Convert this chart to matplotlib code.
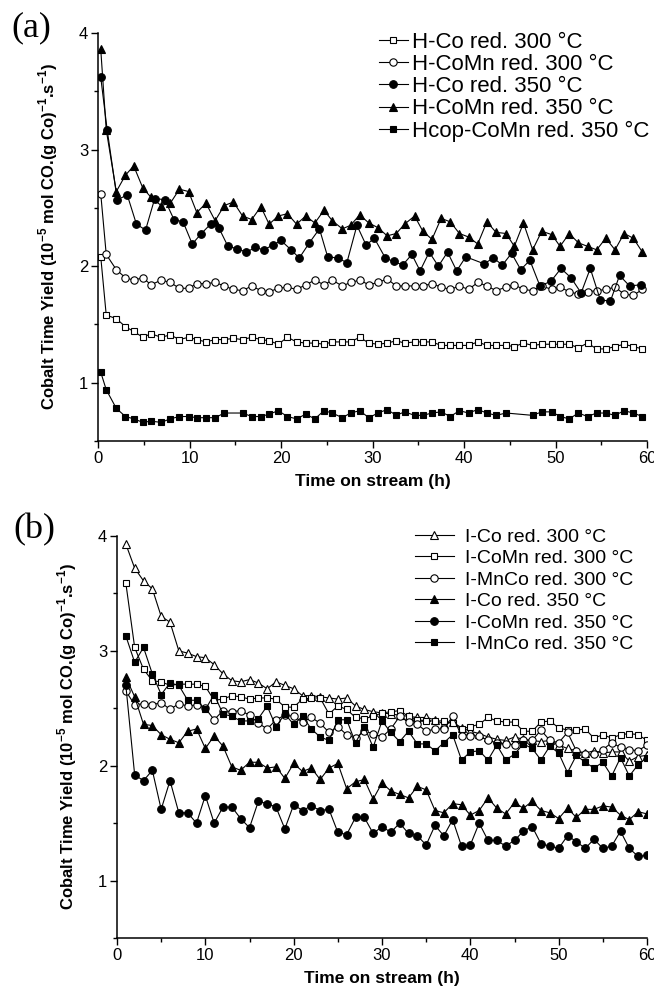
import matplotlib
matplotlib.use('Agg')
import matplotlib.pyplot as plt
import numpy as np
from matplotlib.ticker import MultipleLocator

plt.rcParams['font.family'] = ['Liberation Sans', 'DejaVu Sans']
plt.rcParams['mathtext.fontset'] = 'custom'
plt.rcParams['mathtext.rm'] = 'Liberation Sans'
plt.rcParams['mathtext.bf'] = 'Liberation Sans:bold'

# ---------------- Panel (a) data ----------------
t_a = [0.3, 0.9, 2.0, 3.0, 3.9, 4.9, 5.8, 6.9, 7.9, 8.9, 9.9,
       10.8, 11.8, 12.8, 13.8, 14.8, 15.8, 16.8, 17.8, 18.7, 19.7,
       20.7, 21.7, 22.7, 23.7, 24.7, 25.6, 26.7, 27.6, 28.6, 29.6,
       30.6, 31.6, 32.6, 33.5, 34.6, 35.5, 36.5, 37.5, 38.5, 39.5,
       40.5, 41.5, 42.5, 43.5, 44.6, 45.5, 46.5, 47.5, 48.5, 49.6,
       50.5, 51.5, 52.5, 53.5, 54.5, 55.5, 56.5, 57.5, 58.5, 59.5]

h_co_300 = [2.08, 1.58, 1.55, 1.48, 1.44, 1.39, 1.42, 1.39, 1.41, 1.37,
            1.39, 1.37, 1.35, 1.37, 1.37, 1.38, 1.37, 1.39, 1.37, 1.36,
            1.33, 1.39, 1.35, 1.34, 1.34, 1.33, 1.35, 1.35, 1.35, 1.39,
            1.34, 1.33, 1.34, 1.36, 1.34, 1.35, 1.35, 1.35, 1.32, 1.32,
            1.32, 1.32, 1.35, 1.32, 1.32, 1.32, 1.31, 1.34, 1.32, 1.33,
            1.33, 1.33, 1.33, 1.30, 1.34, 1.29, 1.29, 1.31, 1.33, 1.31,
            1.29]

h_comn_300 = [2.62, 2.10, 1.97, 1.90, 1.88, 1.90, 1.84, 1.88, 1.86, 1.81,
              1.81, 1.85, 1.85, 1.86, 1.83, 1.80, 1.79, 1.83, 1.79, 1.78,
              1.81, 1.82, 1.80, 1.84, 1.88, 1.84, 1.88, 1.83, 1.86, 1.88,
              1.84, 1.86, 1.89, 1.83, 1.83, 1.83, 1.83, 1.85, 1.82, 1.80,
              1.83, 1.80, 1.86, 1.83, 1.79, 1.82, 1.84, 1.80, 1.79, 1.83,
              1.80, 1.82, 1.78, 1.76, 1.78, 1.79, 1.80, 1.82, 1.76, 1.75,
              1.80]

t_h_co_350 = [0.3, 1.0, 2.1, 3.2, 4.2, 5.2, 6.2, 7.3, 8.3, 9.3,
              10.3, 11.3, 12.3, 13.2, 14.2, 15.2, 16.2, 17.2, 18.1, 19.1,
              20.0, 21.1, 22.0, 23.1, 24.2, 25.1, 26.2, 27.2, 28.3, 29.3,
              30.2, 31.4, 32.3, 33.3, 34.3, 35.2, 36.2, 37.2, 38.2, 39.2,
              40.2, 42.2, 43.2, 44.2, 45.2, 46.2, 47.2, 48.3, 49.5, 50.6,
              51.7, 52.8, 53.8, 54.9, 56.0, 57.0, 58.1, 59.3]
h_co_350 = [3.62, 3.17, 2.57, 2.61, 2.36, 2.31, 2.58, 2.57, 2.40, 2.38,
            2.19, 2.28, 2.36, 2.33, 2.17, 2.15, 2.12, 2.16, 2.14, 2.18,
            2.22, 2.14, 2.07, 2.20, 2.32, 2.08, 2.07, 2.03, 2.35, 2.18,
            2.24, 2.07, 2.04, 2.01, 2.10, 1.96, 2.12, 2.00, 2.12, 1.96,
            2.08, 2.02, 2.07, 2.01, 2.11, 1.97, 2.05, 1.83, 1.87, 1.98,
            1.90, 1.77, 1.98, 1.71, 1.70, 1.92, 1.83, 1.84]

h_comn_350 = [3.86, 3.17, 2.64, 2.78, 2.86, 2.67, 2.59, 2.52, 2.54, 2.66,
              2.64, 2.46, 2.54, 2.39, 2.52, 2.55, 2.43, 2.40, 2.51, 2.36,
              2.43, 2.45, 2.36, 2.43, 2.37, 2.48, 2.39, 2.32, 2.35, 2.44,
              2.37, 2.33, 2.26, 2.28, 2.36, 2.43, 2.30, 2.23, 2.41, 2.38,
              2.28, 2.25, 2.19, 2.38, 2.29, 2.28, 2.17, 2.37, 2.14, 2.30,
              2.27, 2.17, 2.28, 2.20, 2.17, 2.14, 2.24, 2.14, 2.28, 2.24,
              2.12]

hcop_comn_350 = [1.09, 0.94, 0.78, 0.71, 0.69, 0.66, 0.67, 0.66, 0.69, 0.71,
                 0.71, 0.70, 0.70, 0.70, 0.74, np.nan, 0.74, 0.71, 0.71, 0.73,
                 0.76, 0.71, 0.69, 0.73, 0.69, 0.76, 0.74, 0.70, 0.74, 0.76,
                 0.70, 0.74, 0.77, 0.72, 0.75, 0.72, 0.72, 0.74, 0.75, 0.71,
                 0.76, 0.74, 0.77, 0.74, 0.72, 0.74, np.nan, np.nan, 0.72, 0.75,
                 0.75, 0.71, 0.69, 0.74, 0.71, 0.74, 0.74, 0.72, 0.76, 0.74,
                 0.71]

labels_a = ['H-Co red. 300 \u00b0C', 'H-CoMn red. 300 \u00b0C', 'H-Co red. 350 \u00b0C',
            'H-CoMn red. 350 \u00b0C', 'Hcop-CoMn red. 350 \u00b0C']

# ---------------- Panel (b) data ----------------
t_b = list(range(1, 61))

i_co_300 = [3.93, 3.72, 3.61, 3.54, 3.30, 3.25, 3.00, 2.98, 2.95, 2.94,
            2.88, 2.80, 2.74, 2.73, 2.75, 2.72, 2.67, 2.73, 2.70, 2.67,
            2.61, 2.61, 2.60, 2.59, 2.58, 2.59, 2.52, 2.49, 2.47, 2.46,
            2.45, 2.44, 2.43, 2.42, 2.42, 2.40, 2.36, 2.38, 2.33, 2.30,
            2.28, 2.25, 2.23, 2.22, 2.25, 2.23, 2.22, 2.21, 2.22, 2.18,
            2.15, 2.13, 2.11, 2.13, 2.11, 2.12, 2.12, 2.04, 2.08, 2.09]

i_comn_300 = [3.59, 3.03, 2.84, 2.74, 2.73, 2.70, 2.71, 2.71, 2.71, 2.69,
              2.57, 2.58, 2.61, 2.60, 2.58, 2.59, 2.59, 2.58, 2.51, 2.51,
              2.58, 2.59, 2.59, 2.45, 2.52, 2.49, 2.42, 2.41, 2.43, 2.46,
              2.47, 2.48, 2.43, 2.40, 2.39, 2.39, 2.39, 2.37, 2.32, 2.34,
              2.36, 2.42, 2.39, 2.38, 2.38, 2.30, 2.30, 2.38, 2.39, 2.33,
              2.31, 2.31, 2.32, 2.24, 2.27, 2.24, 2.27, 2.28, 2.27, 2.22]

i_mnco_300 = [2.65, 2.53, 2.54, 2.53, 2.55, 2.49, 2.54, 2.52, 2.53, 2.50,
              2.40, 2.48, 2.47, 2.48, 2.44, 2.37, 2.32, 2.40, 2.44, 2.43,
              2.38, 2.42, 2.37, 2.29, 2.34, 2.27, 2.24, 2.30, 2.28, 2.25,
              2.32, 2.43, 2.38, 2.36, 2.30, 2.32, 2.32, 2.43, 2.26, 2.26,
              2.26, 2.22, 2.20, 2.19, 2.18, 2.22, 2.22, 2.31, 2.22, 2.20,
              2.29, 2.13, 2.10, 2.10, 2.14, 2.20, 2.16, 2.14, 2.13, 2.18]

i_co_350 = [2.77, 2.60, 2.36, 2.35, 2.27, 2.23, 2.20, 2.30, 2.32, 2.15,
            2.26, 2.17, 1.99, 1.96, 2.03, 2.03, 1.98, 1.99, 1.89, 2.02,
            1.95, 1.98, 1.88, 1.98, 2.02, 1.80, 1.86, 1.88, 1.71, 1.85,
            1.78, 1.75, 1.72, 1.82, 1.79, 1.61, 1.59, 1.67, 1.66, 1.57,
            1.61, 1.72, 1.63, 1.58, 1.68, 1.63, 1.69, 1.61, 1.59, 1.54,
            1.63, 1.55, 1.62, 1.62, 1.65, 1.64, 1.57, 1.53, 1.60, 1.58]

i_comn_350 = [2.70, 1.92, 1.87, 1.96, 1.62, 1.87, 1.59, 1.59, 1.50, 1.74,
              1.50, 1.64, 1.64, 1.54, 1.46, 1.69, 1.67, 1.64, 1.45, 1.66,
              1.61, 1.65, 1.61, 1.62, 1.42, 1.40, 1.55, 1.55, 1.41, 1.47,
              1.42, 1.50, 1.41, 1.39, 1.31, 1.48, 1.39, 1.53, 1.30, 1.31,
              1.50, 1.35, 1.35, 1.30, 1.35, 1.43, 1.47, 1.32, 1.30, 1.28,
              1.39, 1.34, 1.28, 1.36, 1.28, 1.30, 1.43, 1.28, 1.21, 1.22]

i_mnco_350 = [3.13, 2.90, 3.03, 2.80, 2.62, 2.72, 2.70, 2.57, 2.57, 2.49,
              2.62, 2.45, 2.43, 2.39, 2.39, 2.41, 2.52, 2.34, 2.45, 2.36,
              2.43, 2.32, 2.25, 2.22, 2.40, 2.40, 2.20, 2.34, 2.16, 2.39,
              2.29, 2.21, 2.30, 2.19, 2.19, 2.13, 2.20, 2.27, 2.05, 2.12,
              2.13, 2.05, 2.18, 2.05, 2.10, 2.19, 2.15, 2.05, 2.17, 2.11,
              1.94, 2.09, 2.03, 1.98, 2.03, 1.91, 2.07, 1.91, 2.01, 2.07]

labels_b = ['I-Co red. 300 \u00b0C', 'I-CoMn red. 300 \u00b0C', 'I-MnCo red. 300 \u00b0C',
            'I-Co red. 350 \u00b0C', 'I-CoMn red. 350 \u00b0C', 'I-MnCo red. 350 \u00b0C']

xticks = [0, 10, 20, 30, 40, 50, 60]
yticks = [1, 2, 3, 4]
xlabel = 'Time on stream (h)'
ylabel = r'Cobalt Time Yield (10$^{\mathbf{-5}}$ mol CO.(g Co)$^{\mathbf{-1}}$.s$^{\mathbf{-1}}$)'

# ---------------- Figure ----------------
W, H = 654, 992
fig = plt.figure(figsize=(W / 100, H / 100), dpi=100)
ax_a = fig.add_axes([98 / W, 1 - 441 / H, 549 / W, 408 / H])
ax_b = fig.add_axes([117 / W, 1 - 938 / H, 530 / W, 402 / H])


def style(ax):
    for s in ['top', 'right']:
        ax.spines[s].set_visible(False)
    for s in ['left', 'bottom']:
        ax.spines[s].set_linewidth(1.1)
    ax.set_xlim(0, 60)
    ax.set_ylim(0.5, 4)
    ax.set_xticks(xticks)
    ax.set_yticks(yticks)
    ax.xaxis.set_minor_locator(MultipleLocator(5))
    ax.yaxis.set_minor_locator(MultipleLocator(0.5))
    ax.tick_params(which='major', direction='out', length=5, width=1.0,
                   labelsize=12, pad=2)
    ax.tick_params(which='minor', direction='out', length=3, width=1.0)
    ax.set_xlabel(xlabel, fontsize=12.5, fontweight='bold', labelpad=6)


def series(ax, t, v, marker, filled, ms):
    t = np.asarray(t, dtype=float)
    v = np.asarray(v, dtype=float)
    m = ~np.isnan(v)
    return ax.plot(t[m], v[m], color='black', lw=0.8, marker=marker, ms=ms,
                   mfc='black' if filled else 'white', mec='black', mew=0.8)[0]


style(ax_a)
ha = [
    series(ax_a, t_a, h_co_300, 's', False, 5.0),
    series(ax_a, t_a, h_comn_300, 'o', False, 5.3),
    series(ax_a, t_h_co_350, h_co_350, 'o', True, 5.5),
    series(ax_a, t_a, h_comn_350, '^', True, 6.2),
    series(ax_a, t_a, hcop_comn_350, 's', True, 5.0),
]
ax_a.legend(ha, labels_a, loc='upper left', bbox_to_anchor=(379 / W, 1 - 32 / H),
            bbox_transform=fig.transFigure, frameon=False, fontsize=16,
            handlelength=1.3, handletextpad=0.2, labelspacing=0.05,
            borderpad=0, borderaxespad=0, markerscale=1.0)

style(ax_b)
hb = [
    series(ax_b, t_b, i_co_300, '^', False, 6.2),
    series(ax_b, t_b, i_comn_300, 's', False, 5.0),
    series(ax_b, t_b, i_mnco_300, 'o', False, 5.3),
    series(ax_b, t_b, i_co_350, '^', True, 6.2),
    series(ax_b, t_b, i_comn_350, 'o', True, 5.5),
    series(ax_b, t_b, i_mnco_350, 's', True, 5.0),
]
ax_b.legend(hb, labels_b, loc='upper left', bbox_to_anchor=(415 / W, 1 - 528 / H),
            bbox_transform=fig.transFigure, frameon=False, fontsize=14,
            handlelength=2.0, handletextpad=0.55, labelspacing=0.2,
            borderpad=0, borderaxespad=0, markerscale=1.0)

fig.text(48 / W, 1 - 237 / H, ylabel, rotation=90, ha='center', va='center',
         fontsize=12, fontweight='bold')
fig.text(67 / W, 1 - 737 / H, ylabel, rotation=90, ha='center', va='center',
         fontsize=12, fontweight='bold')

fig.text(31 / W, 1 - 28 / H, '(a)', ha='center', va='center', fontsize=26,
         family=['Liberation Serif', 'DejaVu Serif'])
fig.text(34 / W, 1 - 530 / H, '(b)', ha='center', va='center', fontsize=26,
         family=['Liberation Serif', 'DejaVu Serif'])

fig.savefig('out.png', dpi=100)
